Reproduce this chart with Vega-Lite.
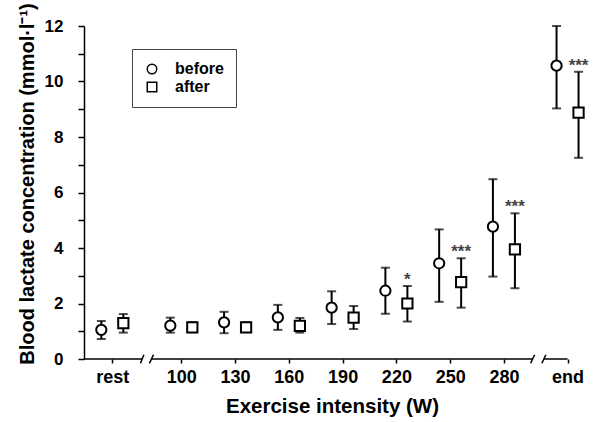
{
  "$schema": "https://vega.github.io/schema/vega-lite/v6.json",
  "width": 509,
  "height": 333,
  "autosize": {"type": "none"},
  "padding": {"left": 84, "top": 26, "right": 4, "bottom": 63},
  "background": "white",
  "config": {
    "view": {"stroke": null},
    "font": "Liberation Sans"
  },
  "datasets": {
    "lactate": [
      {"stage": "rest", "w": 61.5, "group": "before", "mean": 1.05, "lo": 0.72, "hi": 1.37, "sig": ""},
      {"stage": "rest", "w": 61.5, "group": "after", "mean": 1.29, "lo": 0.95, "hi": 1.62, "sig": ""},
      {"stage": "100", "w": 100, "group": "before", "mean": 1.2, "lo": 0.95, "hi": 1.49, "sig": ""},
      {"stage": "100", "w": 100, "group": "after", "mean": 1.14, "lo": 0.97, "hi": 1.32, "sig": ""},
      {"stage": "130", "w": 130, "group": "before", "mean": 1.32, "lo": 0.93, "hi": 1.7, "sig": ""},
      {"stage": "130", "w": 130, "group": "after", "mean": 1.14, "lo": 0.97, "hi": 1.32, "sig": ""},
      {"stage": "160", "w": 160, "group": "before", "mean": 1.5, "lo": 1.05, "hi": 1.95, "sig": ""},
      {"stage": "160", "w": 160, "group": "after", "mean": 1.19, "lo": 0.95, "hi": 1.48, "sig": ""},
      {"stage": "190", "w": 190, "group": "before", "mean": 1.85, "lo": 1.26, "hi": 2.44, "sig": ""},
      {"stage": "190", "w": 190, "group": "after", "mean": 1.49, "lo": 1.08, "hi": 1.91, "sig": ""},
      {"stage": "220", "w": 220, "group": "before", "mean": 2.46, "lo": 1.63, "hi": 3.29, "sig": ""},
      {"stage": "220", "w": 220, "group": "after", "mean": 2.0, "lo": 1.35, "hi": 2.63, "sig": "*"},
      {"stage": "250", "w": 250, "group": "before", "mean": 3.45, "lo": 2.06, "hi": 4.67, "sig": ""},
      {"stage": "250", "w": 250, "group": "after", "mean": 2.77, "lo": 1.85, "hi": 3.63, "sig": "***"},
      {"stage": "280", "w": 280, "group": "before", "mean": 4.77, "lo": 2.97, "hi": 6.48, "sig": ""},
      {"stage": "280", "w": 280, "group": "after", "mean": 3.95, "lo": 2.55, "hi": 5.25, "sig": "***"},
      {"stage": "end", "w": 315.5, "group": "before", "mean": 10.57, "lo": 9.03, "hi": 12.0, "sig": ""},
      {"stage": "end", "w": 315.5, "group": "after", "mean": 8.88, "lo": 7.25, "hi": 10.35, "sig": "***"}
    ],
    "segments": [
      {"a": 45.7, "b": 78.2},
      {"a": 83.3, "b": 296.0},
      {"a": 302.3, "b": 315.5}
    ],
    "slashes": [
      {"x1": 77.2, "x2": 79.1, "y1": -0.155, "y2": 0.155},
      {"x1": 82.2, "x2": 84.5, "y1": -0.155, "y2": 0.155},
      {"x1": 294.9, "x2": 297.1, "y1": -0.155, "y2": 0.155},
      {"x1": 301.2, "x2": 303.4, "y1": -0.155, "y2": 0.155}
    ]
  },
  "encoding": {
    "x": {
      "type": "quantitative", "title": "Exercise intensity (W)",
      "scale": {"domain": [45.7, 329.7], "nice": false, "zero": false},
      "axis": {
        "values": [61.5, 100, 130, 160, 190, 220, 250, 280, 315.5],
        "labelExpr": "datum.value < 70 ? 'rest' : (datum.value > 300 ? 'end' : datum.label)",
        "domain": false, "ticks": true, "tickSize": 4, "tickWidth": 1.5, "tickColor": "black",
        "grid": false,
        "labelFont": "Liberation Sans", "labelFontSize": 18, "labelFontWeight": "bold", "labelColor": "black",
        "labelPadding": 5, "labelFlush": false, "labelOverlap": false,
        "titleFont": "Liberation Sans", "titleFontSize": 20.5, "titleFontWeight": "bold", "titleColor": "black",
        "titleX": 248, "titleY": 47, "titleBaseline": "middle"
      }
    },
    "y": {
      "type": "quantitative",
      "scale": {"domain": [0, 12], "nice": false},
      "title": "Blood lactate concentration (mmol·l⁻¹)",
      "axis": {
        "values": [0, 1, 2, 3, 4, 5, 6, 7, 8, 9, 10, 11, 12],
        "labelExpr": "datum.value % 2 === 0 ? datum.label : ''",
        "domain": true, "domainColor": "black", "domainWidth": 1.5,
        "tickColor": "black", "tickWidth": 1.5, "tickSize": 6,
        "grid": false,
        "labelFont": "Liberation Sans", "labelFontSize": 17, "labelFontWeight": "bold", "labelColor": "black",
        "labelPadding": 15,
        "titleFont": "Liberation Sans", "titleFontSize": 20, "titleFontWeight": "bold", "titleColor": "black",
        "titleX": -57, "titleY": 157.5, "titleBaseline": "middle", "titleAngle": -90, "titleAlign": "center"
      }
    }
  },
  "layer": [
    {
      "data": {"name": "segments"},
      "mark": {"type": "rule", "color": "black", "strokeWidth": 1.5},
      "encoding": {
        "x": {"field": "a"},
        "x2": {"field": "b"},
        "y": {"datum": 0}
      }
    },
    {
      "data": {"name": "slashes"},
      "mark": {"type": "rule", "color": "black", "strokeWidth": 1.5, "clip": false},
      "encoding": {
        "x": {"field": "x1"},
        "x2": {"field": "x2"},
        "y": {"field": "y1"},
        "y2": {"field": "y2"}
      }
    },
    {
      "data": {"name": "lactate"},
      "mark": {"type": "rule", "color": "black", "strokeWidth": 2, "xOffset": {"expr": "datum.group === 'before' ? -11 : 11"}},
      "encoding": {
        "x": {"field": "w"},
        "y": {"field": "lo"},
        "y2": {"field": "hi"}
      }
    },
    {
      "data": {"name": "lactate"},
      "mark": {"type": "tick", "color": "black", "orient": "horizontal", "size": 9, "thickness": 2, "xOffset": {"expr": "datum.group === 'before' ? -11 : 11"}},
      "encoding": {
        "x": {"field": "w"},
        "y": {"field": "hi"}
      }
    },
    {
      "data": {"name": "lactate"},
      "mark": {"type": "tick", "color": "black", "orient": "horizontal", "size": 9, "thickness": 2, "xOffset": {"expr": "datum.group === 'before' ? -11 : 11"}},
      "encoding": {
        "x": {"field": "w"},
        "y": {"field": "lo"}
      }
    },
    {
      "data": {"name": "lactate"},
      "mark": {"type": "point", "filled": true, "color": "white", "fill": "white", "stroke": "black", "strokeWidth": 2, "opacity": 1, "size": 105, "xOffset": {"expr": "datum.group === 'before' ? -11 : 11"}},
      "encoding": {
        "x": {"field": "w"},
        "y": {"field": "mean"},
        "shape": {
          "field": "group", "type": "nominal",
          "scale": {"domain": ["before", "after"], "range": ["circle", "square"]},
          "legend": {
            "title": null, "orient": "none", "legendX": 48, "legendY": 23,
            "strokeColor": "#444", "padding": 12,
            "rowPadding": 2, "symbolSize": 90,
            "labelFont": "Liberation Sans", "labelFontSize": 16, "labelFontWeight": "bold", "labelColor": "black",
            "labelOffset": 15,
            "encode": {
              "symbols": {
                "update": {
                  "stroke": {"value": "black"},
                  "fill": {"value": "white"},
                  "strokeWidth": {"value": 2},
                  "opacity": {"value": 1},
                  "size": {"value": 90}
                }
              }
            }
          }
        }
      }
    },
    {
      "data": {"name": "lactate"},
      "mark": {"type": "text", "fontSize": 17, "fontWeight": "bold", "color": "#444", "baseline": "alphabetic", "align": "center", "dy": -1, "xOffset": {"expr": "datum.group === 'before' ? -11 : 11"}},
      "encoding": {
        "x": {"field": "w"},
        "y": {"field": "hi"},
        "text": {"field": "sig"}
      }
    }
  ]
}
